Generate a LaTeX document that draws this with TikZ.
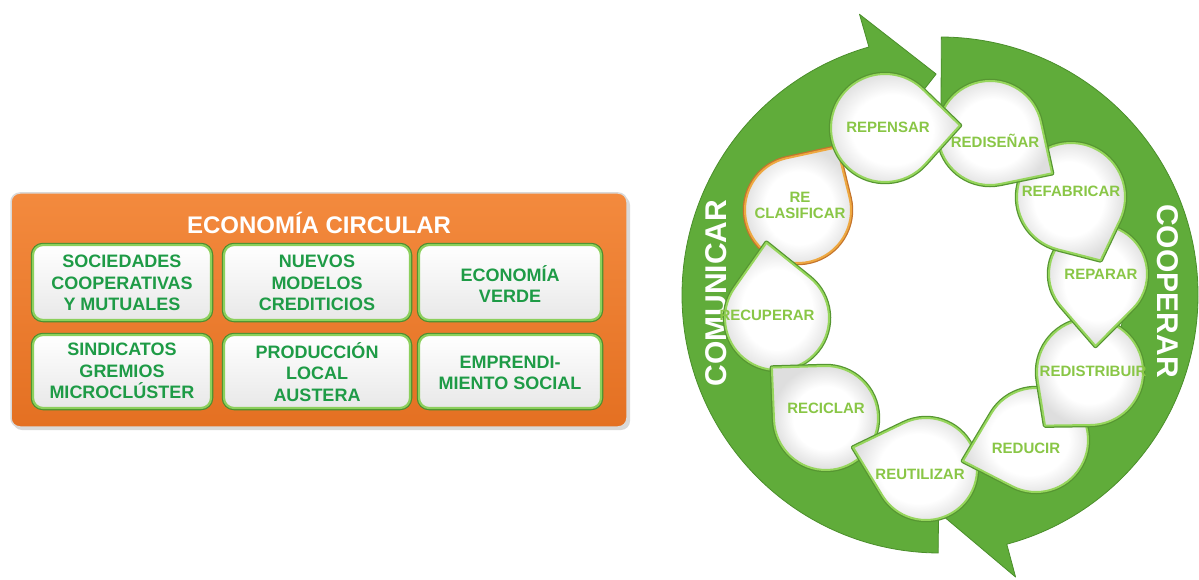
\documentclass[tikz,border=0pt]{standalone}
\usepackage{fontspec}
\setmainfont{Liberation Sans}
\usetikzlibrary{calc}
\definecolor{ringgreen}{RGB}{96,172,58}
\definecolor{ringedge}{RGB}{74,142,42}
\definecolor{droptext}{RGB}{137,198,70}
\definecolor{dropedge}{RGB}{150,214,92}
\definecolor{dropdark}{RGB}{86,150,50}
\definecolor{orangetop}{RGB}{243,138,62}
\definecolor{orangebot}{RGB}{228,112,34}
\definecolor{boxtext}{RGB}{30,155,70}
\definecolor{boxedge}{RGB}{140,208,92}
\definecolor{boxdark}{RGB}{72,142,46}
\definecolor{clasedge}{RGB}{238,168,64}
\definecolor{clasdark}{RGB}{196,116,44}
\pgfdeclareradialshading{dropglow}{\pgfpoint{0bp}{0bp}}{color(0bp)=(white); color(15bp)=(white); color(25bp)=(black!13); color(50bp)=(black!13)}
\tikzset{
  ringarrow/.style={fill=ringgreen, draw=ringedge, line width=0.8pt, line join=round},
  dropunder/.style={draw=#1, line width=4.5pt, line join=round},
  dropover/.style={draw=#1, line width=2pt, line join=round, shade, shading=dropglow},
  droplabel/.style={font=\fontsize{15}{16}\selectfont\bfseries, text=droptext, inner sep=0pt, align=center},
  boxlabel/.style={font=\fontsize{18}{21.5}\selectfont\bfseries, text=boxtext, inner sep=0pt, align=center},
  ringlabel/.style={font=\fontsize{30}{32}\selectfont\bfseries, text=white, inner sep=0pt},
  boxunder/.style={draw=boxdark, line width=4.5pt, rounded corners=10pt},
  boxover/.style={draw=boxedge, line width=2.2pt, rounded corners=10pt, top color=white, bottom color=black!9},
}
\newcommand\mydrop[7]{%
  \pgfmathsetmacro\dropa{acos(#3/#5)}%
  \pgfmathsetmacro\dropsa{#4+\dropa}%
  \pgfmathsetmacro\dropea{#4+360-\dropa}%
  \draw[dropunder=#7] ($(#1,#2)+(#4:#5)$) -- ($(#1,#2)+(\dropsa:#3)$)
     arc[start angle=\dropsa, end angle=\dropea, radius=#3] -- cycle;
  \draw[dropover=#6] ($(#1,#2)+(#4:#5)$) -- ($(#1,#2)+(\dropsa:#3)$)
     arc[start angle=\dropsa, end angle=\dropea, radius=#3] -- cycle;
}
\begin{document}
\begin{tikzpicture}[x=1pt,y=-1pt]
\useasboundingbox (0,0) rectangle (1199,580);
% ---------------- left panel ----------------
\fill[black!15, rounded corners=9pt] (13,196) rectangle (630,430);
\draw[white!85!black, line width=1.5pt, rounded corners=9pt, top color=orangetop, bottom color=orangebot]
  (11,193) rectangle (627,427);
\node[font=\fontsize{24}{26}\selectfont\bfseries, text=white, inner sep=0pt] (title) at (319,223) {ECONOMÍA CIRCULAR};

\draw[boxunder] (33,245) rectangle (211,320);
\draw[boxover]  (33,245) rectangle (211,320);
\draw[boxunder] (224,245) rectangle (410,320);
\draw[boxover]  (224,245) rectangle (410,320);
\draw[boxunder] (419,245) rectangle (601,320);
\draw[boxover]  (419,245) rectangle (601,320);
\draw[boxunder] (33,335) rectangle (211,408);
\draw[boxover]  (33,335) rectangle (211,408);
\draw[boxunder] (224,335) rectangle (410,408);
\draw[boxover]  (224,335) rectangle (410,408);
\draw[boxunder] (419,335) rectangle (601,408);
\draw[boxover]  (419,335) rectangle (601,408);

\node[boxlabel] (b11) at (122,283) {SOCIEDADES\\COOPERATIVAS\\Y MUTUALES};
\node[boxlabel] (b12) at (317,283) {NUEVOS\\MODELOS\\CREDITICIOS};
\node[boxlabel] (b13) at (510,284) {ECONOMÍA\\VERDE};
\node[boxlabel] (b21) at (122,371) {SINDICATOS\\GREMIOS\\MICROCLÚSTER};
\node[boxlabel] (b22) at (317,372) {PRODUCCIÓN\\LOCAL\\AUSTERA};
\node[boxlabel] (b23) at (510,373) {EMPRENDI-\\MIENTO SOCIAL};

% ---------------- ring ----------------
\coordinate (C) at (940,295);
% right arrow (COOPERAR): tail at top, head at bottom
\draw[ringarrow] ($(C)+(270.3:258)$) arc[start angle=270.3, end angle=435, radius=258]
  -- ($(C)+(435:292)$) -- ($(C)+(449.2:221)$) -- ($(C)+(435:172)$)
  -- ($(C)+(435:184)$) arc[start angle=435, end angle=270.3, radius=184] -- cycle;
% left arrow (COMUNICAR): tail at bottom, head at top
\draw[ringarrow] ($(C)+(90.4:258)$) arc[start angle=90.4, end angle=254, radius=258]
  -- ($(C)+(254:292)$) -- ($(C)+(269:221)$) -- ($(C)+(254:172)$)
  -- ($(C)+(254:184)$) arc[start angle=254, end angle=90.4, radius=184] -- cycle;

\node[ringlabel, rotate=90] (comunicar) at (716,293) {COMUNICAR};
\node[ringlabel, rotate=-90] (cooperar) at (1168,291) {COOPERAR};

% ---------------- drops ----------------
\mydrop{798}{210}{53}{302}{74}{clasedge}{clasdark}
\mydrop{777}{318}{52}{262}{76}{dropedge}{dropdark}
\mydrop{826}{418}{52}{223}{74}{dropedge}{dropdark}
\mydrop{926}{469}{51}{196.5}{76}{dropedge}{dropdark}
\mydrop{1036}{440}{52}{164}{76}{dropedge}{dropdark}
\mydrop{1090}{372}{53}{130}{70}{dropedge}{dropdark}
\mydrop{1098}{274}{49}{92}{72}{dropedge}{dropdark}
\mydrop{1071}{197}{54}{65}{70}{dropedge}{dropdark}
\mydrop{990}{133}{52}{33}{74}{dropedge}{dropdark}
\mydrop{885}{128}{54}{358}{75}{dropedge}{dropdark}

\node[droplabel] (d1) at (888,127) {REPENSAR};
\node[droplabel] (d2) at (995,141) {REDISEÑAR};
\node[droplabel] (d3) at (1071,191) {REFABRICAR};
\node[droplabel] (d4) at (1101,274) {REPARAR};
\node[droplabel] (d5) at (1093,371) {REDISTRIBUIR};
\node[droplabel] (d6) at (1026,448) {REDUCIR};
\node[droplabel] (d7) at (920,474) {REUTILIZAR};
\node[droplabel] (d8) at (826,408) {RECICLAR};
\node[droplabel] (d9) at (767,315) {RECUPERAR};
\node[droplabel] (d10) at (800,205) {RE\\CLASIFICAR};
\end{tikzpicture}
\end{document}
